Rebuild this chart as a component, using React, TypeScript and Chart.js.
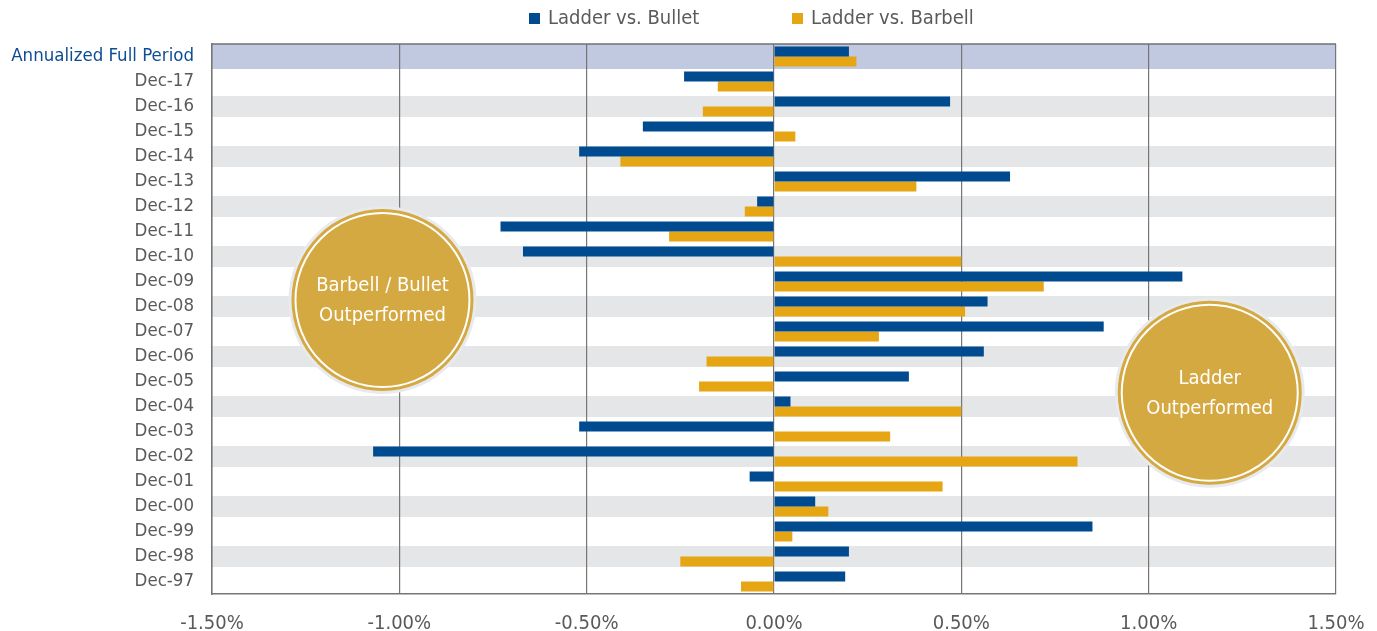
import React, { useEffect, useRef } from "react";
import { Chart, registerables } from "chart.js";

Chart.register(...registerables);

const categories = [
  "Annualized Full Period", "Dec-17", "Dec-16", "Dec-15", "Dec-14", "Dec-13", "Dec-12",
  "Dec-11", "Dec-10", "Dec-09", "Dec-08", "Dec-07", "Dec-06", "Dec-05", "Dec-04",
  "Dec-03", "Dec-02", "Dec-01", "Dec-00", "Dec-99", "Dec-98", "Dec-97",
];
const ladderVsBullet = [
  0.2, -0.24, 0.47, -0.35, -0.52, 0.63, -0.045, -0.73, -0.67, 1.09, 0.57, 0.88,
  0.56, 0.36, 0.044, -0.52, -1.07, -0.065, 0.11, 0.85, 0.2, 0.19,
];
const ladderVsBarbell = [
  0.22, -0.15, -0.19, 0.057, -0.41, 0.38, -0.078, -0.28, 0.5, 0.72, 0.51, 0.28,
  -0.18, -0.2, 0.5, 0.31, 0.81, 0.45, 0.145, 0.049, -0.25, -0.088,
];
const seriesLabels = ["Ladder vs. Bullet", "Ladder vs. Barbell"];
const xTicks = [-1.5, -1.0, -0.5, 0, 0.5, 1.0, 1.5];
const bubbleTexts = [["Barbell / Bullet", "Outperformed"], ["Ladder", "Outperformed"]];

const FONT = "'Liberation Sans Narrow', 'DejaVu Sans Condensed', Roboto, sans-serif";
const BLUE = "#004B8F";
const ORANGE = "#E6A614";
const GREY_TEXT = "#5A5A5A";

const decorPlugin = {
  id: "decor",
  beforeDraw(chart: any) {
    const { ctx, chartArea } = chart;
    const n = categories.length;
    const pitch = (chartArea.bottom - chartArea.top) / n;
    ctx.save();
    for (let i = 0; i < n; i++) {
      const top = chartArea.top + i * pitch;
      if (i === 0) {
        ctx.fillStyle = "#C1C9E1";
        ctx.fillRect(chartArea.left, top, chartArea.right - chartArea.left, pitch);
      } else if (i % 2 === 0) {
        ctx.fillStyle = "#E5E6E8";
        ctx.fillRect(chartArea.left, top + pitch * 0.08, chartArea.right - chartArea.left, pitch * 0.84);
      }
    }
    ctx.restore();
  },
  afterDraw(chart: any) {
    const { ctx, chartArea } = chart;
    const xs = chart.scales.x;
    const n = categories.length;
    const pitch = (chartArea.bottom - chartArea.top) / n;
    ctx.save();
    // top border
    ctx.strokeStyle = "#707070";
    ctx.lineWidth = 1.5;
    ctx.beginPath();
    ctx.moveTo(chartArea.left, chartArea.top);
    ctx.lineTo(chartArea.right, chartArea.top);
    ctx.stroke();

    // bubbles
    const bubbles = [
      { x: xs.getPixelForValue(-1.045), y: chartArea.top + 9.74 * pitch + pitch / 2, r: 91, lines: bubbleTexts[0] },
      { x: xs.getPixelForValue(1.163), y: chartArea.top + 13.45 * pitch + pitch / 2, r: 92, lines: bubbleTexts[1] },
    ];
    bubbles.forEach((b) => {
      ctx.fillStyle = "#E8EAED";
      ctx.beginPath();
      ctx.arc(b.x, b.y, b.r + 3, 0, Math.PI * 2);
      ctx.fill();
      ctx.fillStyle = "#D5A942";
      ctx.beginPath();
      ctx.arc(b.x, b.y, b.r, 0, Math.PI * 2);
      ctx.fill();
      ctx.strokeStyle = "#FFFFFF";
      ctx.lineWidth = 2;
      ctx.beginPath();
      ctx.arc(b.x, b.y, b.r - 4, 0, Math.PI * 2);
      ctx.stroke();
      ctx.fillStyle = "#FFFFFF";
      ctx.font = `20px ${FONT}`;
      ctx.textAlign = "center";
      ctx.textBaseline = "middle";
      ctx.fillText(b.lines[0], b.x, b.y - 14);
      ctx.fillText(b.lines[1], b.x, b.y + 16);
    });

    // legend
    const colors = [BLUE, ORANGE];
    const lx = [529, 792];
    ctx.font = `20px ${FONT}`;
    ctx.textAlign = "left";
    ctx.textBaseline = "middle";
    seriesLabels.forEach((lab, i) => {
      ctx.fillStyle = colors[i];
      ctx.fillRect(lx[i], 13, 11, 11);
      ctx.fillStyle = GREY_TEXT;
      ctx.fillText(lab, lx[i] + 19, 19);
    });
    ctx.restore();
  },
};

export default function App() {
  const ref = useRef<HTMLCanvasElement | null>(null);
  useEffect(() => {
    document.body.style.margin = "0";
    if (!ref.current) return;
    const chart = new Chart(ref.current, {
      type: "bar",
      data: {
        labels: categories,
        datasets: [
          { label: seriesLabels[0], data: ladderVsBullet, backgroundColor: BLUE, categoryPercentage: 0.8, barPercentage: 1.0 },
          { label: seriesLabels[1], data: ladderVsBarbell, backgroundColor: ORANGE, categoryPercentage: 0.8, barPercentage: 1.0 },
        ],
      },
      options: {
        indexAxis: "y",
        animation: false,
        responsive: false,
        maintainAspectRatio: false,
        layout: { padding: { top: 44, right: 41, left: 0, bottom: 0 } },
        font: { family: FONT },
        plugins: { legend: { display: false }, tooltip: { enabled: false } },
        scales: {
          x: {
            min: -1.5,
            max: 1.5,
            afterBuildTicks: (s: any) => {
              s.ticks = xTicks.map((v) => ({ value: v }));
            },
            afterFit: (s: any) => {
              s.height = 37;
              s.paddingLeft = 0;
              s.paddingRight = 0;
            },
            ticks: {
              callback: (v: any) => Number(v).toFixed(2) + "%",
              color: GREY_TEXT,
              font: { family: FONT, size: 20 },
              padding: 18,
              maxRotation: 0,
            },
            grid: { color: "#767676", lineWidth: 1.2, drawTicks: false },
            border: { color: "#767676", width: 1.5 },
          },
          y: {
            afterFit: (s: any) => {
              s.width = 212;
              s.paddingTop = 0;
              s.paddingBottom = 0;
            },
            ticks: {
              color: (c: any) => (c.index === 0 ? "#0D4D94" : GREY_TEXT),
              font: { family: FONT, size: 18.5 },
              padding: 18,
              autoSkip: false,
            },
            grid: { display: false, drawTicks: false },
            border: { display: true, color: "#767676", width: 1.5 },
          },
        },
      },
      plugins: [decorPlugin],
    } as any);
    return () => chart.destroy();
  }, []);
  return (
    <div style={{ width: 1377, height: 631 }}>
      <canvas ref={ref} width={1377} height={631} style={{ width: 1377, height: 631 }} />
    </div>
  );
}
